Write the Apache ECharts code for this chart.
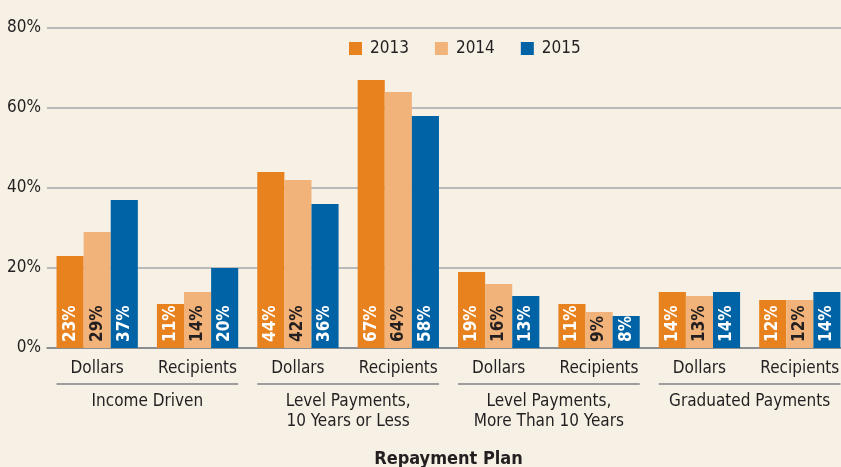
<!DOCTYPE html>
<html>
<head>
<meta charset="utf-8">
<script src="https://cdn.jsdelivr.net/npm/echarts@6/dist/echarts.min.js"></script>
<style>
  html, body { margin: 0; padding: 0; background: #f6f0e5; }
  #chart { width: 841px; height: 467px; }
</style>
</head>
<body>
<div id="chart"></div>
<script>
const FONT = "'DejaVu Sans Condensed', sans-serif";

const subCategories = ['Dollars', 'Recipients', 'Dollars', 'Recipients', 'Dollars', 'Recipients', 'Dollars', 'Recipients'];
const planGroups = ['Income Driven', 'Level Payments,\n10 Years or Less', 'Level Payments,\nMore Than 10 Years', 'Graduated Payments'];
const years = ['2013', '2014', '2015'];
const values2013 = [23, 11, 44, 67, 19, 11, 14, 12];
const values2014 = [29, 14, 42, 64, 16, 9, 13, 12];
const values2015 = [37, 20, 36, 58, 13, 8, 14, 14];

const colors = ['#e8821e', '#f1b37a', '#0063a5'];
const labelColors = ['#ffffff', '#231f20', '#ffffff'];
const CAT_GAP = 0.19;

const chart = echarts.init(document.getElementById('chart'));

function barSeries(name, data, i) {
  return {
    name: name,
    type: 'bar',
    xAxisIndex: 0,
    data: data,
    barGap: 0,
    barCategoryGap: (CAT_GAP * 100) + '%',
    itemStyle: { color: colors[i] },
    label: {
      show: true,
      position: 'insideBottom',
      rotate: 90,
      align: 'left',
      verticalAlign: 'middle',
      distance: 6,
      formatter: '{c}%',
      color: labelColors[i],
      fontFamily: FONT,
      fontWeight: 'bold',
      fontSize: 17,
    },
  };
}

chart.setOption({
  backgroundColor: '#f6f0e5',
  animation: false,
  textStyle: { fontFamily: FONT },
  grid: { left: 47, top: 28, width: 803, height: 320, outerBoundsMode: 'none', containLabel: false },
  legend: {
    left: 349,
    top: 40,
    padding: 0,
    icon: 'rect',
    itemWidth: 13,
    itemHeight: 13,
    itemGap: 26,
    textStyle: { color: '#231f20', fontSize: 17, fontFamily: FONT, padding: [0, 0, 0, 3] },
    data: years,
  },
  xAxis: [
    {
      type: 'category',
      data: subCategories,
      axisLine: { lineStyle: { color: '#7d7f82', width: 1.5 } },
      axisTick: { show: false },
      axisLabel: { color: '#231f20', fontSize: 17, margin: 12, interval: 0 },
    },
    {
      type: 'category',
      position: 'bottom',
      data: planGroups,
      offset: 44,
      axisLine: { show: false },
      axisTick: { show: false },
      axisLabel: { color: '#231f20', fontSize: 17, lineHeight: 20, margin: 0, interval: 0 },
      name: 'Repayment Plan',
      nameLocation: 'middle',
      nameGap: 58,
      nameTextStyle: { color: '#231f20', fontSize: 18, fontWeight: 'bold', fontFamily: FONT },
    },
  ],
  yAxis: {
    type: 'value',
    min: 0,
    max: 80,
    interval: 20,
    axisLine: { show: false },
    axisTick: { show: false },
    axisLabel: { color: '#231f20', fontSize: 17, margin: 6, formatter: '{value}%' },
    splitLine: { lineStyle: { color: '#a7a9ac', width: 1.5 } },
  },
  series: [
    barSeries(years[0], values2013, 0),
    barSeries(years[1], values2014, 1),
    barSeries(years[2], values2015, 2),
  ],
});

// group underlines, placed from the category scale
function drawUnderlines() {
  const x0 = chart.convertToPixel({ xAxisIndex: 0 }, 0);
  const x1 = chart.convertToPixel({ xAxisIndex: 0 }, 1);
  const band = x1 - x0;
  const half = band * (1 - CAT_GAP) / 2;
  const y = chart.convertToPixel({ yAxisIndex: 0 }, 0) + 36;
  const lines = planGroups.map((g, gi) => {
    const a = chart.convertToPixel({ xAxisIndex: 0 }, gi * 2) - half;
    const b = chart.convertToPixel({ xAxisIndex: 0 }, gi * 2 + 1) + half;
    return {
      type: 'line',
      shape: { x1: a, y1: y, x2: b, y2: y },
      style: { stroke: '#808285', lineWidth: 1.5 },
      silent: true,
    };
  });
  chart.setOption({ graphic: lines });
}
drawUnderlines();
</script>
</body>
</html>
